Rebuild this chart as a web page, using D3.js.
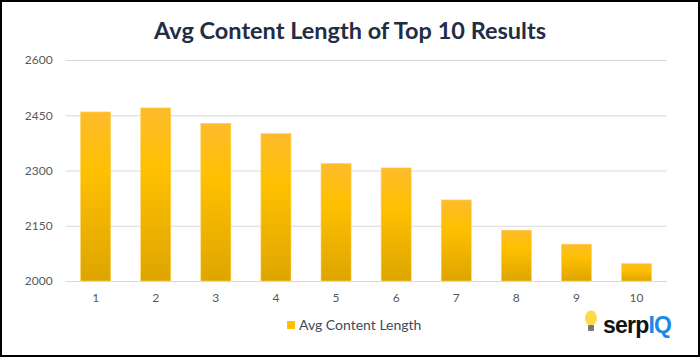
<!DOCTYPE html>
<html><head><meta charset="utf-8">
<script src="https://cdn.jsdelivr.net/npm/d3@7"></script>
<style>
html,body{margin:0;padding:0;background:#fff;}
svg{display:block;}
</style></head>
<body>
<svg id="chart" width="700" height="357"></svg>
<script>
const categories = ["1","2","3","4","5","6","7","8","9","10"];
const values = [2459, 2470, 2428, 2400, 2319, 2307, 2220, 2138, 2100, 2047];
const yTicks = [2000, 2150, 2300, 2450, 2600];
const seriesName = "Avg Content Length";
const title = "Avg Content Length of Top 10 Results";

const svg = d3.select("#chart");
const W = 700, H = 357;
const font = "Lato, 'Open Sans', sans-serif";

svg.append("rect").attr("x",1).attr("y",1).attr("width",W-2).attr("height",H-2)
  .attr("fill","#fff").attr("stroke","#000").attr("stroke-width",2);

const defs = svg.append("defs");
const grad = defs.append("linearGradient").attr("id","barGrad")
  .attr("x1",0).attr("y1",0).attr("x2",0).attr("y2",1);
grad.append("stop").attr("offset","0%").attr("stop-color","#FDBB2C");
grad.append("stop").attr("offset","35%").attr("stop-color","#FFC000");
grad.append("stop").attr("offset","100%").attr("stop-color","#DDA500");

const x = d3.scaleBand().domain(categories).range([65.6, 666.6]).paddingInner(0.5).paddingOuter(0.25);
const y = d3.scaleLinear().domain([2000, 2600]).range([281, 60]);

// gridlines
const gy = svg.append("g")
  .call(d3.axisLeft(y).tickValues(yTicks).tickSize(-(666.6-65.6)).tickFormat(d3.format("d")))
  .attr("transform","translate(65.6,0)");
gy.select(".domain").remove();
gy.selectAll(".tick line").attr("stroke","#D9D9D9").attr("stroke-width",1);
gy.selectAll(".tick text").attr("x",-13).attr("fill","#595959")
  .style("font-family",font).style("font-size","12px");

// bars
svg.append("g").selectAll("rect").data(values).join("rect")
  .attr("x",(d,i)=>x(categories[i]))
  .attr("width",x.bandwidth())
  .attr("y",d=>y(d))
  .attr("height",d=>y(2000)-y(d))
  .attr("fill","url(#barGrad)")
  .attr("stroke","#FFD35A").attr("stroke-width",0.6);

// x axis
const gx = svg.append("g").attr("transform","translate(0,281)")
  .call(d3.axisBottom(x).tickSize(0).tickPadding(12));
gx.select(".domain").attr("stroke","#D9D9D9");
gx.selectAll(".tick text").attr("fill","#595959")
  .style("font-family",font).style("font-size","12px");

// title
svg.append("text").attr("x",350).attr("y",39).attr("text-anchor","middle")
  .attr("fill","#1F2D45").style("font-family",font).style("font-weight","bold")
  .style("font-size","23.5px").text(title);

// legend
svg.append("rect").attr("x",287).attr("y",321).attr("width",8).attr("height",8).attr("fill","#FFC000");
svg.append("text").attr("x",299).attr("y",330).attr("fill","#3E4A5E")
  .style("font-family",font).style("font-size","14px").text(seriesName);

// logo
const logo = svg.append("g");
logo.append("ellipse").attr("cx",591).attr("cy",318).attr("rx",6).attr("ry",7.5).attr("fill","#FFD84A");
logo.append("rect").attr("x",588).attr("y",325).attr("width",6).attr("height",6).attr("fill","#777").attr("rx",1);
const lt = logo.append("text").attr("x",603).attr("y",333).style("font-family","'Liberation Sans', Arial, sans-serif")
  .style("font-weight","bold").style("font-size","23px").attr("letter-spacing","-0.8");
lt.append("tspan").attr("fill","#111").text("serp");
lt.append("tspan").attr("fill","#1E88E5").text("IQ");
</script>
</body></html>
